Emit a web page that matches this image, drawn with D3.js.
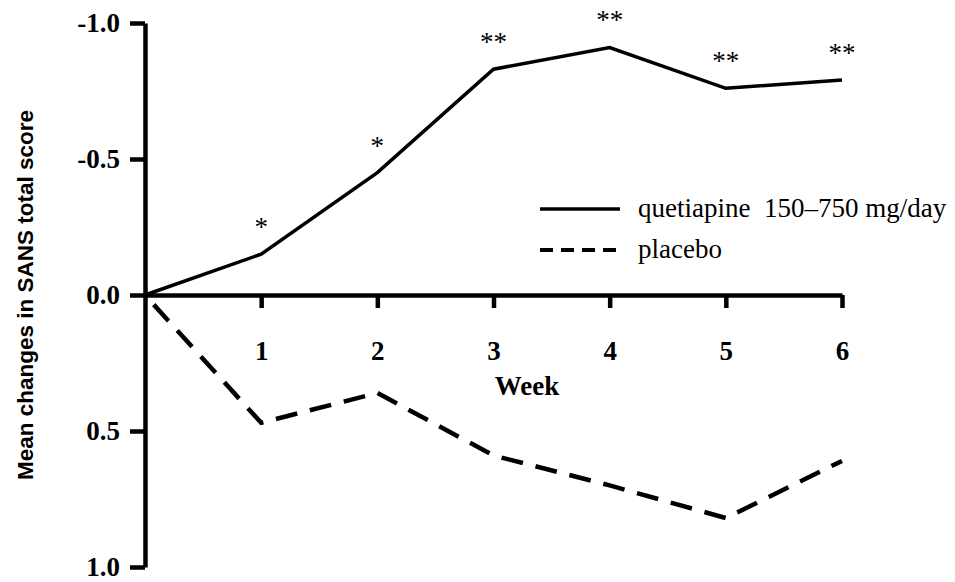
<!DOCTYPE html>
<html>
<head>
<meta charset="utf-8">
<script src="https://cdn.jsdelivr.net/npm/d3@7"></script>
<style>
  html, body { margin: 0; padding: 0; background: #fff; }
  svg { display: block; }
</style>
</head>
<body>
<svg id="chart" width="955" height="582"></svg>
<script>
// ---- data ----
const weeks = [0, 1, 2, 3, 4, 5, 6];
const quetiapine = [0, -0.15, -0.45, -0.83, -0.91, -0.76, -0.79];
const placebo = [0, 0.47, 0.36, 0.59, 0.70, 0.82, 0.61];
const significance = ["", "*", "*", "**", "**", "**", "**"];
const xTicks = [1, 2, 3, 4, 5, 6];
const yTicks = [-1.0, -0.5, 0.0, 0.5, 1.0];
const seriesNames = ["quetiapine  150\u2013750 mg/day", "placebo"];
const xTitle = "Week";
const yTitle = "Mean changes in SANS total score";

// ---- layout ----
const svg = d3.select("#chart");
const x = d3.scaleLinear().domain([0, 6]).range([145, 842]);
const y = d3.scaleLinear().domain([-1, 1]).range([23, 567]);
const serif = "'Liberation Serif', 'Times New Roman', serif";
const sans = "'Liberation Sans', Arial, sans-serif";

// y axis
const yAxis = d3.axisLeft(y).tickValues(yTicks)
  .tickFormat(d => d3.format(".1f")(d).replace("\u2212", "-"))
  .tickSize(15).tickSizeOuter(0).tickPadding(10);
const gy = svg.append("g").attr("transform", `translate(${x(0)},0)`).call(yAxis);
gy.select(".domain").attr("stroke", "#000").attr("stroke-width", 4.5);
gy.selectAll(".tick line").attr("stroke", "#000").attr("stroke-width", 4.5);
gy.selectAll(".tick text").attr("font-family", serif).attr("font-weight", "bold")
  .attr("font-size", 27).attr("fill", "#000");

// x axis
const xAxis = d3.axisBottom(x).tickValues(xTicks).tickFormat(d3.format("d"))
  .tickSize(13).tickSizeOuter(0).tickPadding(33);
const gx = svg.append("g").attr("transform", `translate(0,${y(0)})`).call(xAxis);
gx.select(".domain").attr("stroke", "#000").attr("stroke-width", 4.5);
gx.selectAll(".tick line").attr("stroke", "#000").attr("stroke-width", 4.5);
gx.selectAll(".tick text").attr("font-family", serif).attr("font-weight", "bold")
  .attr("font-size", 27).attr("fill", "#000");

svg.append("text").attr("x", 527).attr("y", 395).attr("text-anchor", "middle")
  .attr("font-family", serif).attr("font-weight", "bold").attr("font-size", 27)
  .text(xTitle);

svg.append("text")
  .attr("transform", `translate(33,${(y(-1) + y(1)) / 2}) rotate(-90)`)
  .attr("text-anchor", "middle")
  .attr("font-family", sans).attr("font-weight", "bold").attr("font-size", 22.5)
  .text(yTitle);

// lines
const line = d3.line().x((d, i) => x(weeks[i])).y(d => y(d));
svg.append("path").datum(quetiapine).attr("d", line)
  .attr("fill", "none").attr("stroke", "#000").attr("stroke-width", 3.5)
  .attr("stroke-linejoin", "miter");
svg.append("path").datum(placebo).attr("d", line)
  .attr("fill", "none").attr("stroke", "#000").attr("stroke-width", 4.5)
  .attr("stroke-dasharray", "22,13").attr("stroke-dashoffset", 22);

// significance markers
svg.selectAll("text.sig").data(quetiapine).enter().append("text")
  .attr("class", "sig")
  .attr("x", (d, i) => x(weeks[i]))
  .attr("y", d => y(d) - 18)
  .attr("text-anchor", "middle")
  .attr("font-family", serif).attr("font-size", 27)
  .text((d, i) => significance[i]);

// legend
const legend = svg.append("g").attr("transform", "translate(540,209)");
legend.append("line").attr("x1", 0).attr("x2", 80).attr("y1", 0).attr("y2", 0)
  .attr("stroke", "#000").attr("stroke-width", 3.5);
legend.append("line").attr("x1", 0).attr("x2", 80).attr("y1", 41).attr("y2", 41)
  .attr("stroke", "#000").attr("stroke-width", 4).attr("stroke-dasharray", "13,8");
legend.selectAll("text").data(seriesNames).enter().append("text")
  .attr("x", 98).attr("y", (d, i) => 8 + i * 41)
  .attr("font-family", serif).attr("font-size", 27)
  .style("white-space", "pre")
  .text(d => d);
</script>
</body>
</html>
